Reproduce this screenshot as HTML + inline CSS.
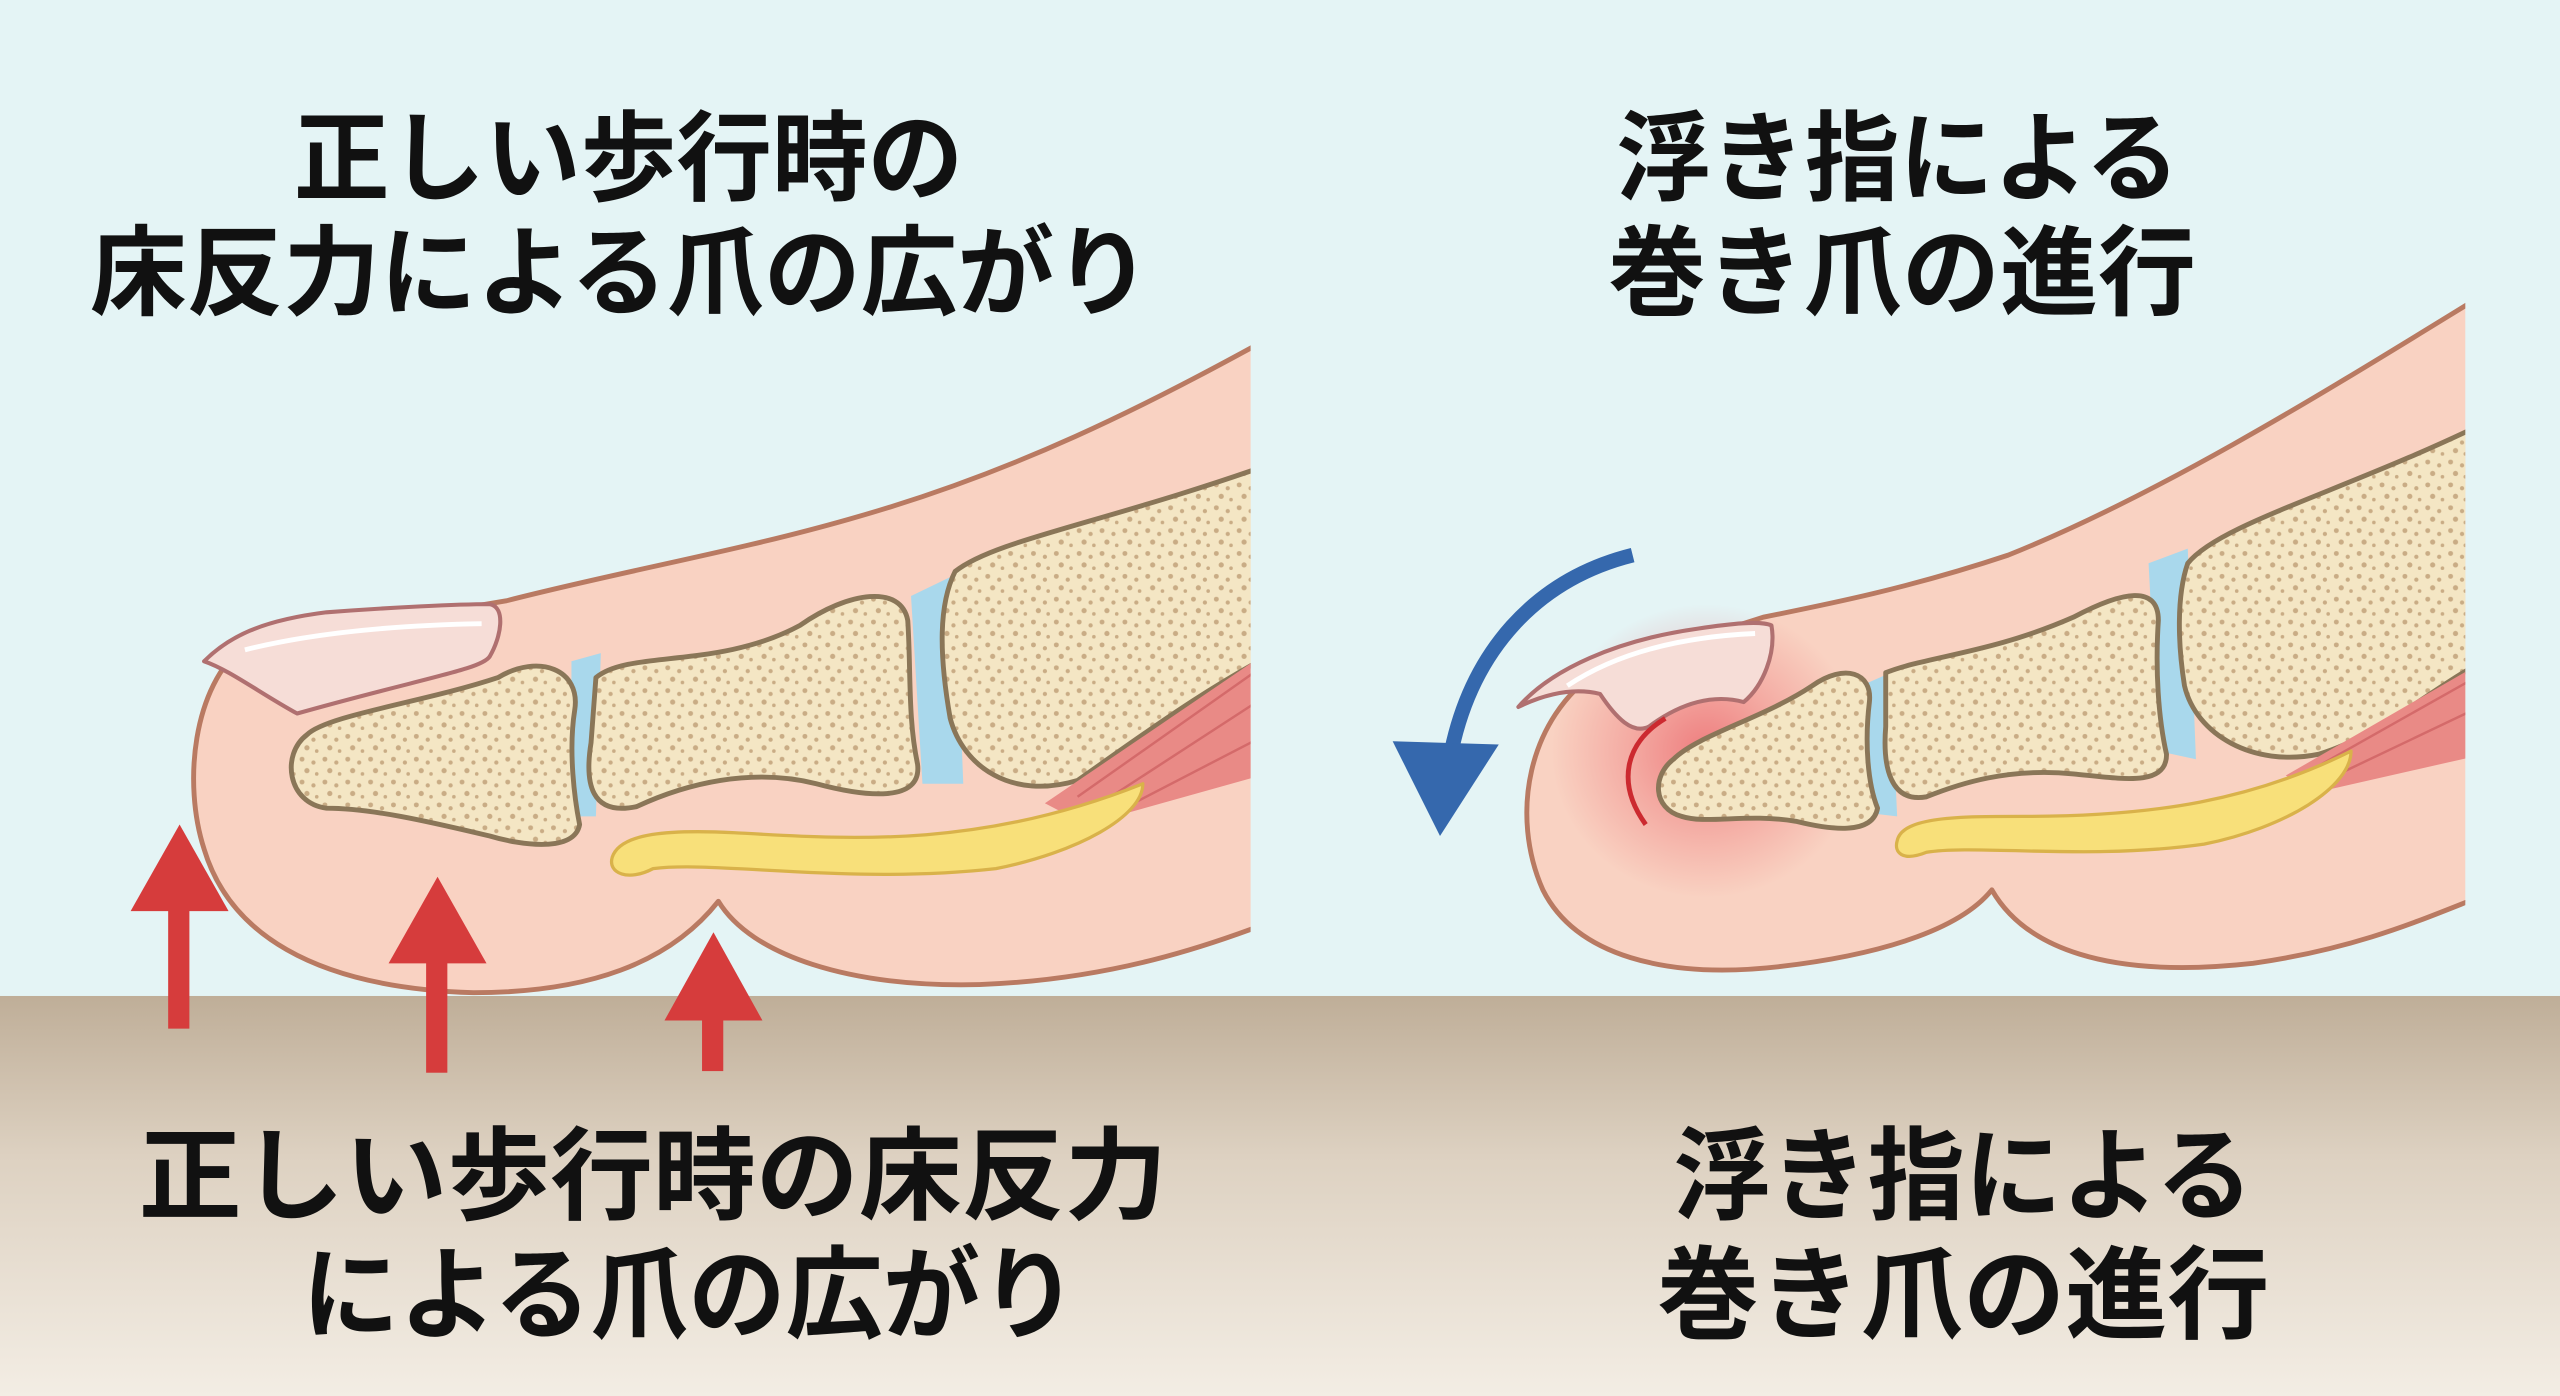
<!DOCTYPE html>
<html><head><meta charset="utf-8"><style>
html,body{margin:0;padding:0;width:2560px;height:1396px;overflow:hidden;background:#e4f4f5}
svg{display:block}
text{font-family:"Liberation Sans","Noto Sans CJK JP",sans-serif;font-weight:700;fill:#111}
</style></head><body>
<svg width="2560" height="1396" viewBox="0 0 1568 855" preserveAspectRatio="none" xmlns="http://www.w3.org/2000/svg">
<defs>
<linearGradient id="floor" x1="0" y1="0" x2="0" y2="1">
<stop offset="0" stop-color="#bfae98"/><stop offset="0.4" stop-color="#ddd1c1"/><stop offset="1" stop-color="#f3ede4"/>
</linearGradient>
<pattern id="spk" width="14" height="14" patternUnits="userSpaceOnUse">
<rect width="14" height="14" fill="#f4e6c4"/>
<circle cx="3" cy="3" r="1.5" fill="#c9ac85"/><circle cx="10" cy="5" r="1.3" fill="#c9ac85"/>
<circle cx="6" cy="10" r="1.6" fill="#c9ac85"/><circle cx="12" cy="12" r="1.1" fill="#c9ac85"/>
</pattern>
<clipPath id="cl"><rect x="0" y="0" width="766" height="855"/></clipPath>
<clipPath id="cr"><rect x="0" y="0" width="1510" height="855"/></clipPath>
<radialGradient id="glow"><stop offset="0" stop-color="#e8505a" stop-opacity="0.65"/><stop offset="0.5" stop-color="#e8505a" stop-opacity="0.3"/><stop offset="1" stop-color="#e8505a" stop-opacity="0"/></radialGradient>
</defs>
<rect width="1568" height="855" fill="#e4f4f5"/>
<rect y="610" width="1568" height="245" fill="url(#floor)"/>

<!-- LEFT TOE -->
<g clip-path="url(#cl)" stroke="#b97a62" stroke-width="3" stroke-linejoin="round">
<path d="M790 200 C700 250 620 290 520 318 C450 338 380 350 310 368 L150 395 C118 420 112 480 125 520 C140 570 190 605 290 608 C360 608 410 590 440 552 C460 585 520 605 600 603 C680 600 740 580 790 560 Z" fill="#f9d2c2"/>
<path d="M350 405 L368 400 L365 500 L350 500 Z M558 365 L585 352 L590 480 L565 480 Z" fill="#a9d8ec" stroke="none"/>
<path d="M188 450 C200 438 260 430 305 415 C330 400 356 410 352 435 C348 460 352 490 355 505 C352 522 320 518 300 512 C270 505 230 495 200 495 C176 492 172 462 188 450 Z" fill="url(#spk)" stroke="#8a7658"/>
<path d="M365 415 C385 398 440 410 490 383 C520 362 552 358 556 380 C558 410 556 440 562 468 C565 492 530 488 500 480 C460 470 420 480 390 494 C362 500 358 480 362 455 Z" fill="url(#spk)" stroke="#8a7658"/>
<path d="M585 350 C610 330 680 320 790 280 L790 395 C740 420 700 450 660 478 C620 490 590 470 582 440 C575 400 575 370 585 350 Z" fill="url(#spk)" stroke="#8a7658"/>
<path d="M640 492 L790 390 L790 470 L665 505 Z" fill="#e98a86" stroke="none"/>
<path d="M660 488 L785 400 M665 498 L785 420 M675 502 L785 445" stroke="#d46a6a" stroke-width="1.5"/>
<path d="M375 525 C380 510 410 508 450 510 C520 514 600 520 700 480 C700 500 660 522 610 532 C520 542 440 527 400 532 C385 540 372 535 375 525 Z" fill="#f8e07a" stroke="#d9b24a" stroke-width="2"/>
<path d="M125 405 C140 390 160 380 200 375 C240 372 280 370 300 370 C310 372 307 390 300 402 C295 410 260 415 182 437 C160 425 140 410 125 405 Z" fill="#f6ddd7" stroke="#b07070" stroke-width="2.5"/>
<path d="M150 398 C190 388 240 383 295 382" stroke="#fff" stroke-width="3" fill="none"/>
</g>
<!-- red arrows -->
<g fill="#d63c3c">
<rect x="103" y="550" width="13" height="80"/><polygon points="80,558 110,505 140,558"/>
<rect x="261" y="585" width="13" height="72"/><polygon points="238,590 268,537 298,590"/>
<rect x="430" y="620" width="13" height="36"/><polygon points="407,625 437,571 467,625"/>
</g>

<!-- RIGHT TOE -->
<g clip-path="url(#cr)" stroke="#b97a62" stroke-width="3" stroke-linejoin="round">
<path d="M1530 175 C1440 230 1330 300 1230 340 C1170 360 1120 370 1080 378 L980 410 C935 440 925 500 945 545 C965 585 1020 600 1090 592 C1150 585 1200 570 1220 545 C1240 580 1290 600 1380 590 C1450 580 1490 560 1530 545 Z" fill="#f9d2c2"/>
<ellipse cx="1045" cy="460" rx="95" ry="90" fill="url(#glow)" stroke="none"/>
<path d="M1140 420 L1158 412 L1162 500 L1145 498 Z M1316 345 L1340 336 L1345 465 L1322 460 Z" fill="#a9d8ec" stroke="none"/>
<path d="M1025 465 C1040 450 1080 440 1110 420 C1130 406 1147 412 1145 430 C1142 455 1144 480 1150 495 C1147 512 1120 508 1100 503 C1070 498 1045 505 1030 500 C1012 495 1012 475 1025 465 Z" fill="url(#spk)" stroke="#8a7658"/>
<path d="M1155 412 C1180 402 1220 400 1270 378 C1300 362 1322 358 1322 380 C1320 410 1322 440 1327 462 C1327 482 1300 477 1270 474 C1230 470 1200 480 1180 488 C1158 492 1153 470 1155 445 Z" fill="url(#spk)" stroke="#8a7658"/>
<path d="M1340 345 C1360 320 1440 300 1530 255 L1530 400 C1490 420 1460 450 1420 462 C1380 470 1345 450 1338 420 C1334 395 1333 365 1340 345 Z" fill="url(#spk)" stroke="#8a7658"/>
<path d="M1400 475 L1530 400 L1530 460 L1420 485 Z" fill="#e98a86" stroke="none"/>
<path d="M1415 472 L1525 410 M1420 480 L1525 430" stroke="#d46a6a" stroke-width="1.5"/>
<path d="M1162 515 C1165 500 1200 500 1240 500 C1320 500 1380 490 1440 460 C1440 482 1400 507 1350 517 C1280 527 1210 517 1180 522 C1165 528 1160 522 1162 515 Z" fill="#f8e07a" stroke="#d9b24a" stroke-width="2"/>
<path d="M930 433 C950 410 990 392 1040 385 C1060 382 1078 380 1085 383 C1088 400 1080 420 1068 430 C1050 425 1030 430 1010 445 C1000 450 990 440 980 425 C960 420 940 428 930 433 Z" fill="#f6ddd7" stroke="#b07070" stroke-width="2.5"/>
<path d="M960 420 C990 400 1030 390 1075 388" stroke="#fff" stroke-width="3" fill="none"/>
<path d="M1020 440 C995 455 990 480 1008 505" stroke="#cc2a30" stroke-width="3" fill="none"/>
</g>
<!-- blue arrow -->
<path d="M1000 340 C940 355 900 400 888 465" stroke="#3568ad" stroke-width="9" fill="none"/>
<polygon points="853,454 918,456 882,512" fill="#3568ad"/>

<!-- TEXT -->
<text x="180" y="118" font-size="60" textLength="410" lengthAdjust="spacingAndGlyphs">正しい歩行時の</text>
<text x="55" y="188" font-size="60" textLength="650" lengthAdjust="spacingAndGlyphs">床反力による爪の広がり</text>
<text x="990" y="118" font-size="60" textLength="345" lengthAdjust="spacingAndGlyphs">浮き指による</text>
<text x="985" y="188" font-size="60" textLength="360" lengthAdjust="spacingAndGlyphs">巻き爪の進行</text>
<text x="85" y="742" font-size="62" textLength="630" lengthAdjust="spacingAndGlyphs">正しい歩行時の床反力</text>
<text x="185" y="815" font-size="62" textLength="475" lengthAdjust="spacingAndGlyphs">による爪の広がり</text>
<text x="1025" y="742" font-size="62" textLength="355" lengthAdjust="spacingAndGlyphs">浮き指による</text>
<text x="1015" y="815" font-size="62" textLength="375" lengthAdjust="spacingAndGlyphs">巻き爪の進行</text>
</svg>
</body></html>
